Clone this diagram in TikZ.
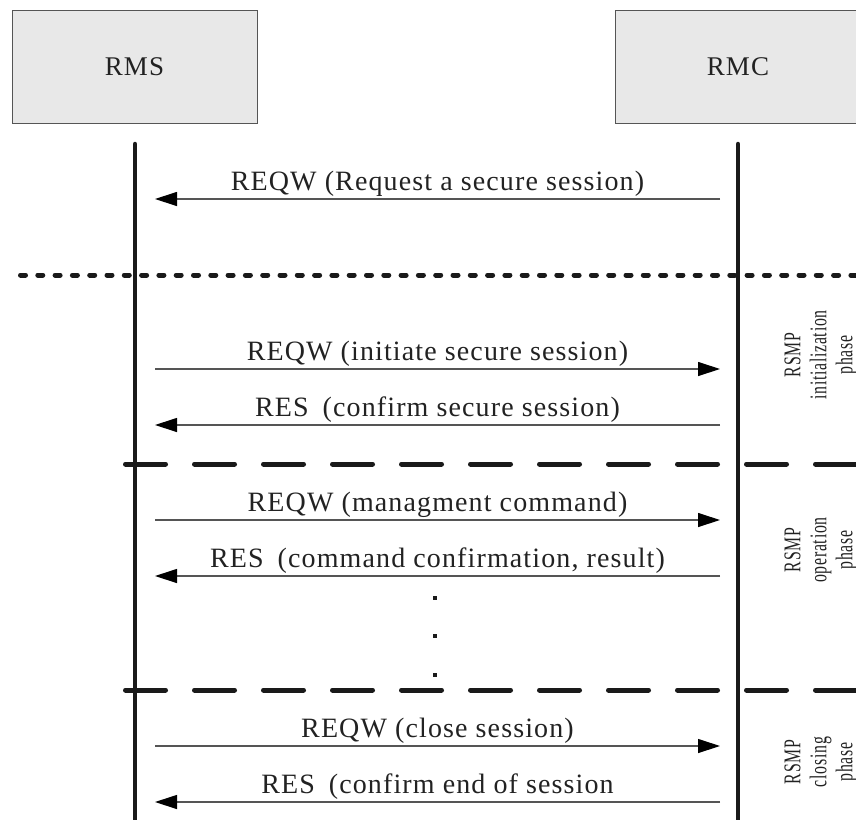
\documentclass[tikz,border=0pt]{standalone}
\usepackage{fontspec}
\setmainfont{Liberation Serif}[LetterSpace=4]
\newfontfamily\phasefont{Liberation Serif}[LetterSpace=3,FakeStretch=0.66]
\usetikzlibrary{arrows.meta}
\definecolor{boxfill}{HTML}{E8E8E8}
\definecolor{boxline}{HTML}{555555}
\definecolor{inkc}{HTML}{1A1A1A}
\definecolor{msgline}{HTML}{555555}
\definecolor{txt}{HTML}{222222}
\begin{document}
\begin{tikzpicture}[x=1pt,y=-1pt,
  actor/.style={draw=boxline, fill=boxfill, line width=1pt},
  actortext/.style={text=txt, font=\fontsize{27}{32}\selectfont},
  lifeline/.style={draw=inkc, line width=4.5pt, line cap=round},
  msg/.style={draw=msgline, line width=1.2pt,
    -{Triangle[length=22pt,width=14pt,color=black]}},
  msgtext/.style={text=txt, font=\fontsize{28}{33}\selectfont, anchor=base},
  dottedsep/.style={draw=inkc, line width=5pt, line cap=round, dash pattern=on 5pt off 12.3pt},
  dashedsep/.style={draw=inkc, line width=5pt, line cap=round, dash pattern=on 40pt off 29pt},
  phaselabel/.style={rotate=90, align=center, text=txt,
    font=\phasefont\fontsize{24}{26}\selectfont},
  dotmark/.style={fill=inkc, inner sep=0pt, minimum size=3.2pt}]
\useasboundingbox (0,0) rectangle (856,819);
% actors
\draw[actor] (12,10) rectangle (257,123);
\node[actortext] (rms) at (134.5,67) {RMS};
\draw[actor] (615,10) rectangle (870,123);
\node[actortext] (rmc) at (738,67) {RMC};
% lifelines
\coordinate (rmsTop) at (135,144);
\coordinate (rmsBot) at (135,830);
\coordinate (rmcTop) at (738,144);
\coordinate (rmcBot) at (738,830);
\draw[lifeline] (rmsTop) -- (rmsBot);
\draw[lifeline] (rmcTop) -- (rmcBot);
% separators
\coordinate (s0a) at (20.5,275);
\coordinate (s0b) at (860,275);
\draw[dottedsep] (s0a) -- (s0b);
\coordinate (s1a) at (125.5,464);
\coordinate (s1b) at (880,464);
\draw[dashedsep] (s1a) -- (s1b);
\coordinate (s2a) at (125.5,690);
\coordinate (s2b) at (880,690);
\draw[dashedsep] (s2a) -- (s2b);
% message end points
\foreach \i/\y in {1/199,2/369,3/425,4/520,5/576,6/746,7/802}{
  \coordinate (L\i) at (155,\y);
  \coordinate (R\i) at (720,\y);
}
\draw[msg] (R1) -- (L1) node[msgtext, pos=0.5, yshift=9pt] (m1) {REQW (Request a secure session)};
\draw[msg] (L2) -- (R2) node[msgtext, pos=0.5, yshift=9pt] (m2) {REQW (initiate secure session)};
\draw[msg] (R3) -- (L3) node[msgtext, pos=0.5, yshift=9pt] (m3) {RES\enspace(confirm secure session)};
\draw[msg] (L4) -- (R4) node[msgtext, pos=0.5, yshift=9pt] (m4) {REQW (managment command)};
\draw[msg] (R5) -- (L5) node[msgtext, pos=0.5, yshift=9pt] (m5) {RES\enspace(command confirmation, result)};
\draw[msg] (L6) -- (R6) node[msgtext, pos=0.5, yshift=9pt] (m6) {REQW (close session)};
\draw[msg] (R7) -- (L7) node[msgtext, pos=0.5, yshift=9pt] (m7) {RES\enspace(confirm end of session};
% continuation dots
\node[dotmark] (d1) at (435,598) {};
\node[dotmark] (d2) at (435,636) {};
\node[dotmark] (d3) at (435,675) {};
% phase labels
\node[phaselabel] (p1) at (821,355) {RSMP\\initialization\\phase};
\node[phaselabel] (p2) at (821,550) {RSMP\\operation\\phase};
\node[phaselabel] (p3) at (821,762) {RSMP\\closing\\phase};
\end{tikzpicture}
\end{document}
